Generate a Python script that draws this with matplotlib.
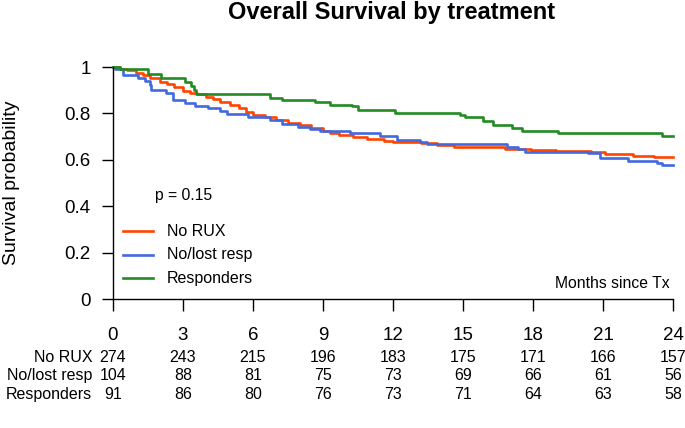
import matplotlib.pyplot as plt
from matplotlib.lines import Line2D
from matplotlib import transforms

plt.rcParams['font.family'] = ['Liberation Sans', 'DejaVu Sans']

W, H = 685, 428

# group names, colours and at-risk table
groups = ["No RUX", "No/lost resp", "Responders"]
colors = ["#ff4500", "#4169e1", "#228b22"]
months = [0, 3, 6, 9, 12, 15, 18, 21, 24]
risk_norux = [274, 243, 215, 196, 183, 175, 171, 166, 157]
risk_lost = [104, 88, 81, 75, 73, 69, 66, 61, 56]
risk_resp = [91, 86, 80, 76, 73, 71, 64, 63, 58]

# Kaplan-Meier steps (months, survival)
norux_t = [0, 0.3, 0.6, 1.0, 1.3, 1.6, 2.0, 2.3, 2.6, 3.0, 3.3, 3.6, 4.0, 4.3, 4.6,
           5.0, 5.4, 5.7, 6.0, 6.5, 7.0, 7.5, 8.0, 8.5, 9.0, 9.3, 9.7, 10.3, 10.9,
           11.6, 12.0, 13.2, 13.9, 14.6, 16.8, 17.9, 19.0, 20.5, 21.1, 22.3, 23.2]
norux_s = [1.0, 0.993, 0.985, 0.975, 0.964, 0.952, 0.937, 0.925, 0.913, 0.898, 0.889,
           0.882, 0.872, 0.862, 0.850, 0.836, 0.822, 0.808, 0.795, 0.784, 0.772, 0.760,
           0.748, 0.735, 0.722, 0.714, 0.707, 0.700, 0.690, 0.682, 0.675, 0.672, 0.664,
           0.656, 0.647, 0.642, 0.639, 0.632, 0.625, 0.618, 0.611]

lost_t = [0, 0.09, 0.43, 1.07, 1.37, 1.59, 1.63, 2.27, 2.57, 3.09, 3.52, 4.07, 4.6,
          4.9, 5.8, 6.73, 7.24, 7.93, 8.44, 8.87, 10.15, 11.44, 12.17, 13.16, 13.46,
          16.9, 17.36, 17.66, 20.36, 20.87, 22.07, 23.32, 23.53]
lost_s = [1.0, 0.99, 0.966, 0.951, 0.941, 0.922, 0.90, 0.887, 0.858, 0.843, 0.833,
          0.822, 0.81, 0.796, 0.786, 0.772, 0.754, 0.743, 0.733, 0.724, 0.714, 0.703,
          0.685, 0.678, 0.668, 0.657, 0.647, 0.635, 0.628, 0.609, 0.596, 0.588, 0.578]

resp_t = [0, 0.3, 1.5, 2.06, 3.09, 3.34, 3.47, 3.56, 6.73, 7.24, 8.66, 9.3, 10.24,
          10.5, 12.1, 14.87, 15.08, 15.86, 16.29, 17.1, 17.53, 19.07, 23.53]
resp_s = [1.0, 0.99, 0.97, 0.953, 0.935, 0.92, 0.90, 0.884, 0.868, 0.858, 0.848,
          0.836, 0.832, 0.815, 0.803, 0.793, 0.783, 0.768, 0.75, 0.736, 0.725, 0.714,
          0.703]

fig = plt.figure(figsize=(W / 100, H / 100), dpi=100)
ax = fig.add_axes([113 / W, 1 - 299 / H, 560 / W, 232 / H])

curves = [(norux_t, norux_s), (lost_t, lost_s), (resp_t, resp_s)]
for (t, s), c in zip(curves, colors):
    ax.step(t + [24], s + [s[-1]], where="post", color=c, lw=1.9, clip_on=False)

ax.set_xlim(0, 24)
ax.set_ylim(0, 1)
for side in ["top", "right"]:
    ax.spines[side].set_visible(False)
ax.spines["left"].set_bounds(0, 1)
ax.spines["bottom"].set_bounds(0, 24)
ax.spines["left"].set_linewidth(1.0)
ax.spines["bottom"].set_linewidth(1.0)

ax.set_xticks(months)
ax.set_xticklabels([str(m) for m in months])
ax.set_yticks([0, 0.2, 0.4, 0.6, 0.8, 1])
ax.set_yticklabels(["0", "0.2", "0.4", "0.6", "0.8", "1"])
ax.tick_params(axis="x", length=8.5, width=1.0, pad=12, labelsize=13.5)
ax.tick_params(axis="y", length=8, width=1.0, pad=8, labelsize=13.5)

fig.text(12 / W, 1 - 183 / H, "Survival probability", rotation=90,
         ha="center", va="center", fontsize=14)
fig.text(392 / W, 1 - 12 / H, "Overall Survival by treatment",
         ha="center", va="center", fontsize=17, fontweight="bold")
fig.text(670 / W, 1 - 283 / H, "Months since Tx", ha="right", va="center", fontsize=11.3)
fig.text(155 / W, 1 - 196 / H, "p = 0.15", ha="left", va="center", fontsize=11.3)

# legend drawn by hand
for i, (g, c) in enumerate(zip(groups, colors)):
    y = 1 - (231 + i * 23.5) / H
    fig.add_artist(Line2D([123 / W, 153 / W], [y, y], color=c, lw=1.9,
                          transform=fig.transFigure))
    fig.text(167 / W, y, g, ha="left", va="center", fontsize=11.5)

# numbers at risk
trans = transforms.blended_transform_factory(ax.transData, fig.transFigure)
rows = [risk_norux, risk_lost, risk_resp]
for i, (g, r) in enumerate(zip(groups, rows)):
    y = 1 - (357 + i * 18.8) / H
    fig.text(92 / W, y, g, ha="right", va="center", fontsize=11.5)
    for m, n in zip(months, r):
        ax.text(m, y, str(n), transform=trans, ha="center", va="center", fontsize=11.5)

fig.savefig("out.png", dpi=100)
